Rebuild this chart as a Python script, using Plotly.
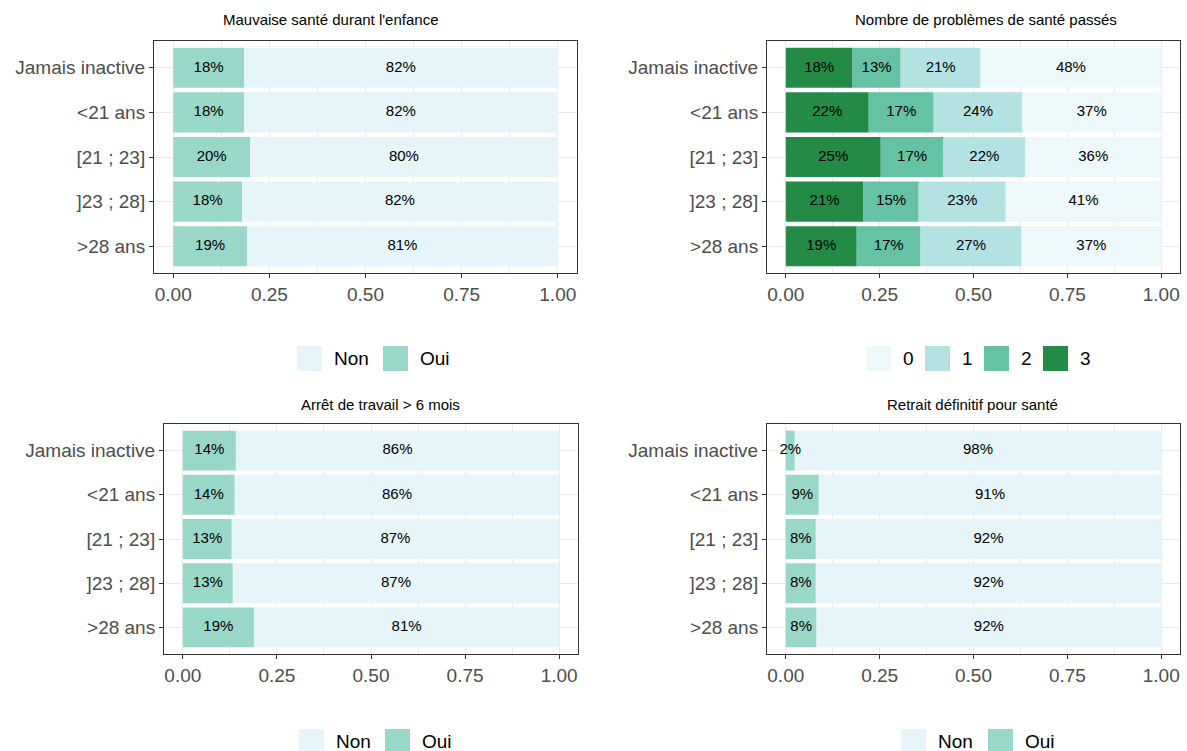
import plotly.graph_objects as go

# ---------------- data ----------------
categories = ["Jamais inactive", "<21 ans", "[21 ; 23]", "]23 ; 28]", ">28 ans"]

# Panel 1 : Mauvaise santé durant l'enfance
p1_oui = [0.184, 0.184, 0.200, 0.179, 0.192]
p1_non = [0.816, 0.816, 0.800, 0.821, 0.808]

# Panel 2 : Nombre de problèmes de santé passés
p2_3 = [0.178, 0.221, 0.253, 0.207, 0.189]
p2_2 = [0.128, 0.173, 0.167, 0.147, 0.170]
p2_1 = [0.213, 0.236, 0.218, 0.232, 0.269]
p2_0 = [0.481, 0.370, 0.362, 0.414, 0.372]

# Panel 3 : Arrêt de travail > 6 mois
p3_oui = [0.141, 0.138, 0.130, 0.133, 0.189]
p3_non = [0.859, 0.862, 0.870, 0.867, 0.811]

# Panel 4 : Retrait définitif pour santé
p4_oui = [0.024, 0.088, 0.080, 0.080, 0.082]
p4_non = [0.976, 0.912, 0.920, 0.920, 0.918]

titles = ["Mauvaise santé durant l'enfance", "Nombre de problèmes de santé passés",
          "Arrêt de travail > 6 mois", "Retrait définitif pour santé"]
x_ticks = [0, 0.25, 0.5, 0.75, 1.0]
x_ticklabels = ["0.00", "0.25", "0.50", "0.75", "1.00"]

# ---------------- styles ----------------
C_NON = "#e5f5f9"
C_OUI = "#99d8c9"
C4 = {"0": "#edf8fb", "1": "#b2e2e2", "2": "#66c2a4", "3": "#238b45"}

W, H = 1187, 751
FONT = "Liberation Sans, Arial, Helvetica, sans-serif"

def px_x(a, b):
    return [a / W, b / W]

def px_y(top, bottom):
    return [1 - bottom / H, 1 - top / H]

panels = {
    1: dict(x=px_x(154, 577), y=px_y(41, 273)),
    2: dict(x=px_x(767, 1180), y=px_y(41, 273)),
    3: dict(x=px_x(164, 578), y=px_y(424, 654)),
    4: dict(x=px_x(767, 1180), y=px_y(424, 654)),
}

fig = go.Figure()
shapes = []
annotations = []

def add_stack(panel, series):
    """series: list of (name, values, color), from left to right."""
    xa = "x" if panel == 1 else f"x{panel}"
    ya = "y" if panel == 1 else f"y{panel}"
    cum = [0.0] * len(categories)
    tx, ty, tt = [], [], []
    for name, vals, color in series:
        fig.add_trace(go.Bar(
            y=categories, x=vals, base=cum[:], orientation="h", name=name,
            marker=dict(color=color, line=dict(width=0)), width=0.9,
            xaxis=xa, yaxis=ya, showlegend=False,
            hovertemplate=name + ": %{x:.0%}<extra></extra>",
        ))
        for i, v in enumerate(vals):
            tx.append(cum[i] + v / 2)
            ty.append(categories[i])
            tt.append(f"{int(round(v * 100))}%")
            cum[i] += v
    fig.add_trace(go.Scatter(
        x=tx, y=ty, text=tt, mode="text", textposition="middle center",
        textfont=dict(size=15, color="#000000", family=FONT),
        xaxis=xa, yaxis=ya, showlegend=False, hoverinfo="skip", cliponaxis=False,
    ))

def add_legend(series, key_lefts, y_center):
    """ggplot-style legend: 25px square keys followed by the label."""
    items = sorted(series, key=lambda s: s[0])  # legend order: Non/Oui, 0..3
    for (name, _, color), kx in zip(items, key_lefts):
        shapes.append(dict(
            type="rect", xref="paper", yref="paper",
            x0=kx / W, x1=(kx + 25) / W,
            y0=1 - (y_center + 12.5) / H, y1=1 - (y_center - 12.5) / H,
            fillcolor=color, line=dict(width=0), layer="above",
        ))
        annotations.append(dict(
            text=name, x=(kx + 35) / W, y=1 - y_center / H, xref="paper", yref="paper",
            xanchor="left", yanchor="middle", showarrow=False,
            font=dict(size=19, color="#000000", family=FONT),
        ))

s1 = [("Oui", p1_oui, C_OUI), ("Non", p1_non, C_NON)]
s2 = [("3", p2_3, C4["3"]), ("2", p2_2, C4["2"]), ("1", p2_1, C4["1"]), ("0", p2_0, C4["0"])]
s3 = [("Oui", p3_oui, C_OUI), ("Non", p3_non, C_NON)]
s4 = [("Oui", p4_oui, C_OUI), ("Non", p4_non, C_NON)]

add_stack(1, s1)
add_stack(2, s2)
add_stack(3, s3)
add_stack(4, s4)

add_legend(s1, [297, 383], 358.5)
add_legend(s2, [866, 925, 984, 1043], 358.5)
add_legend(s3, [299, 385], 741.5)
add_legend(s4, [901, 988], 741.5)

layout = dict(
    width=W, height=H, margin=dict(l=0, r=0, t=0, b=0),
    paper_bgcolor="white", plot_bgcolor="white",
    barmode="overlay",
    font=dict(family=FONT, color="#4d4d4d"),
    showlegend=False,
)

for p, d in panels.items():
    xk = "xaxis" if p == 1 else f"xaxis{p}"
    yk = "yaxis" if p == 1 else f"yaxis{p}"
    xa_anchor = "y" if p == 1 else f"y{p}"
    ya_anchor = "x" if p == 1 else f"x{p}"
    layout[xk] = dict(
        domain=d["x"], anchor=xa_anchor, range=[-0.05, 1.05],
        tickvals=x_ticks, ticktext=x_ticklabels,
        tickfont=dict(size=19, color="#4d4d4d", family=FONT),
        ticks="outside", ticklen=4, tickcolor="#333333", tickwidth=1,
        showgrid=True, gridcolor="#ebebeb", gridwidth=1,
        minor=dict(tickvals=[0.125, 0.375, 0.625, 0.875], showgrid=True, gridcolor="#ebebeb", gridwidth=0.6),
        showline=True, mirror=True, linecolor="#333333", linewidth=1,
        zeroline=False, fixedrange=True,
    )
    layout[yk] = dict(
        domain=d["y"], anchor=ya_anchor, type="category",
        categoryorder="array", categoryarray=categories[::-1],
        range=[-0.6, 4.6],
        tickfont=dict(size=19, color="#4d4d4d", family=FONT),
        ticks="outside", ticklen=4, tickcolor="#333333", tickwidth=1,
        showgrid=True, gridcolor="#ebebeb", gridwidth=1,
        showline=True, mirror=True, linecolor="#333333", linewidth=1,
        zeroline=False, fixedrange=True,
    )

title_pos = [(331, 20), (986, 20), (380, 405), (972, 405)]
annotations += [
    dict(text=t, x=tx / W, y=1 - ty / H, xref="paper", yref="paper",
         xanchor="center", yanchor="middle", showarrow=False,
         font=dict(size=15, color="#000000", family=FONT))
    for t, (tx, ty) in zip(titles, title_pos)
]
layout["annotations"] = annotations
layout["shapes"] = shapes

fig.update_layout(**layout)
fig.write_html(
    "out.html",
    config={"displayModeBar": False},
    post_script="document.body.style.margin='0';document.body.style.overflow='hidden';",
)
